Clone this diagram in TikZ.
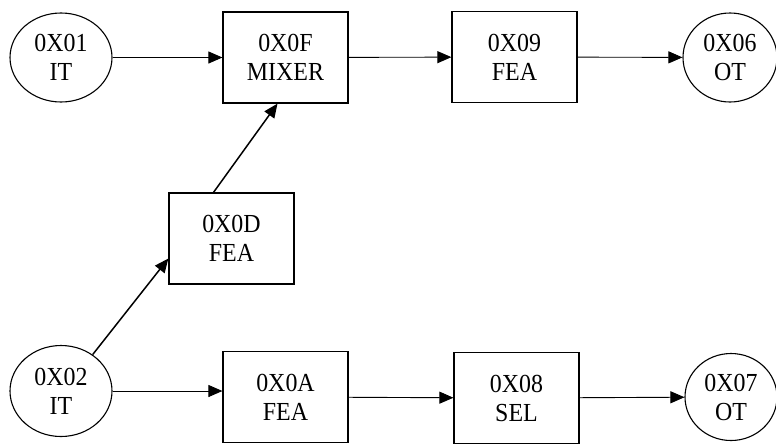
\documentclass[tikz,border=0pt]{standalone}
\usepackage{fontspec}
\newfontfamily\blockfont[FakeStretch=0.92]{Liberation Serif}
\usetikzlibrary{shapes.geometric,arrows.meta}

\begin{document}
\begin{tikzpicture}[x=1pt, y=-1pt,
        port/.style={draw, line width=1.1pt, ellipse, inner sep=0pt,
            minimum width=102pt, minimum height=89pt, align=center,
            font=\blockfont\fontsize{26}{29}\selectfont},
        block/.style={draw, line width=1.2pt, rectangle, inner sep=0pt,
            minimum width=125pt, minimum height=91pt, align=center,
            font=\blockfont\fontsize{26}{29}\selectfont},
        flow/.style={line width=0.9pt, -{Triangle[length=14pt,width=12pt]}},
        feed/.style={line width=1.5pt, -{Triangle[length=14pt,width=12pt]}}]
        \useasboundingbox (0, 0) rectangle (776, 445);

        % top row
        \node[port] (it1) at (61, 57.5) {0X01\\IT};
        \node[block] (mix) at (285.5, 57.5) {0X0F\\MIXER};
        \node[block] (fea9) at (514.5, 57) {0X09\\FEA};
        \node[port, minimum width=94pt] (ot6) at (730, 57.5) {0X06\\OT};

        % middle
        \node[block] (fead) at (231.5, 238.5) {0X0D\\FEA};

        % bottom row
        \node[port, minimum height=91pt] (it2) at (61, 391) {0X02\\IT};
        \node[block] (feaa) at (285.5, 397) {0X0A\\FEA};
        \node[block] (sel) at (516.5, 398) {0X08\\SEL};
        \node[port, minimum width=92pt, minimum height=87pt] (ot7) at (731, 397) {0X07\\OT};

        \draw[flow] (it1) -- (mix);
        \draw[flow] (mix) -- (fea9);
        \draw[flow] (fea9) -- (ot6);

        \draw[feed] (it2.49) -- ([yshift=-20pt]fead.west);
        \draw[feed] ([xshift=-18pt]fead.north) -- ([xshift=-8pt]mix.south);

        \draw[flow] (it2.east) -- (it2.east -| feaa.west);
        \draw[flow] (feaa) -- (sel);
        \draw[flow] (sel) -- (ot7);

        \end{tikzpicture}
\end{document}
